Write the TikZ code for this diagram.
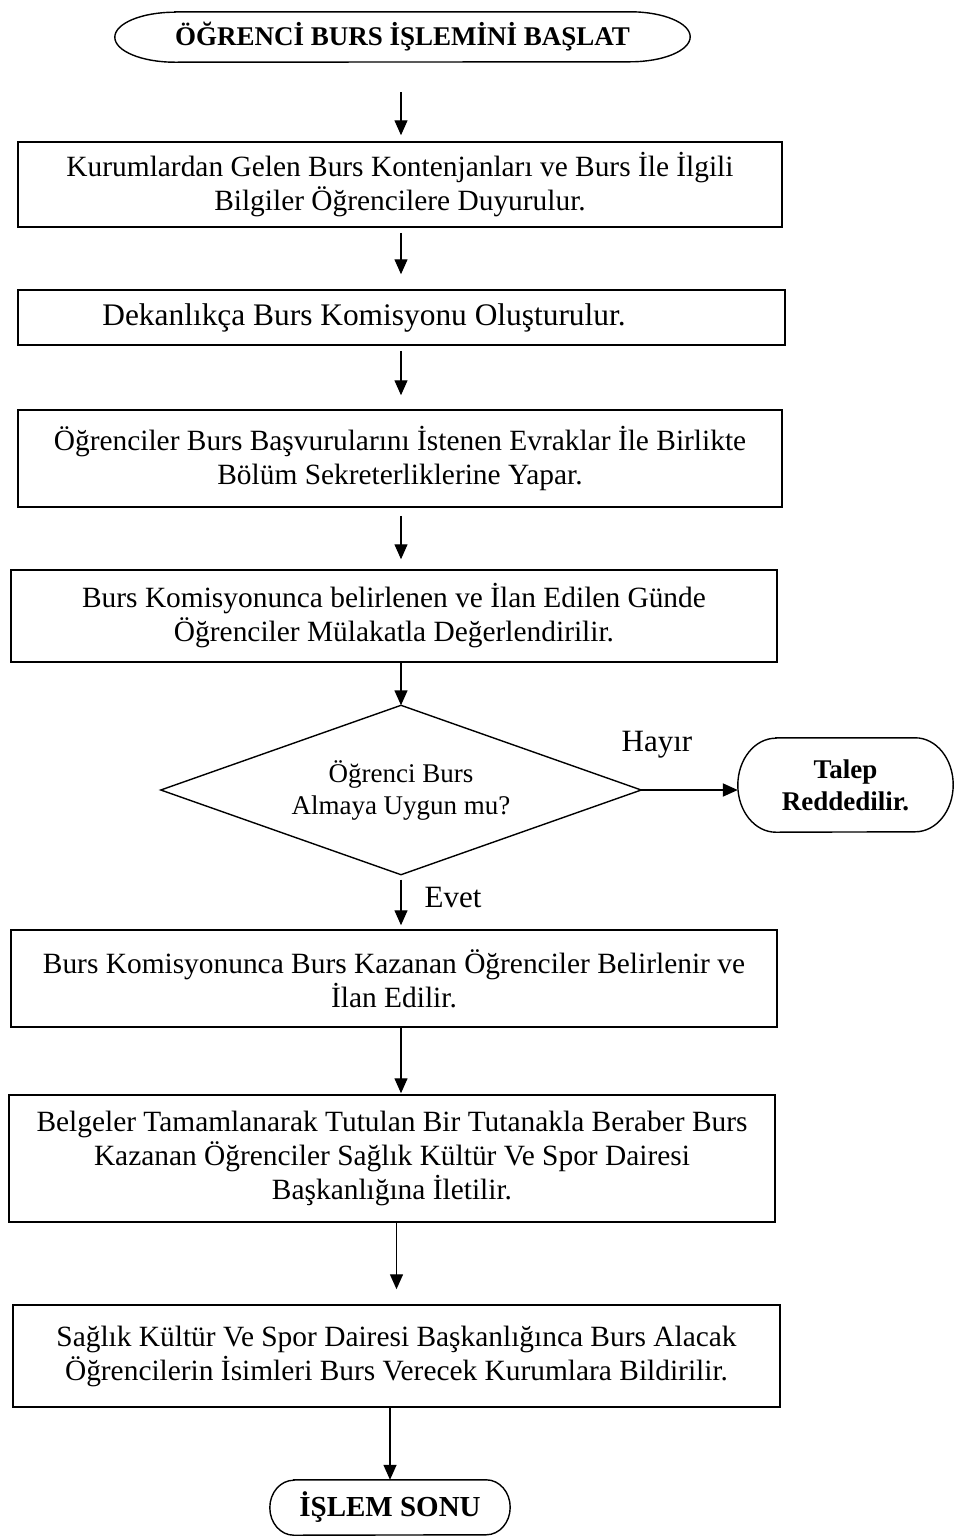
\documentclass[tikz,border=0pt]{standalone}
\usepackage{fontspec}
\setmainfont{Liberation Serif}
\usetikzlibrary{arrows.meta}

\tikzset{
  stepbox/.style={draw, line width=1.5pt, align=center, inner sep=0pt,
    font=\fontsize{29.4}{34}\selectfont},
  termtext/.style={inner sep=0pt, align=center, font=\bfseries\fontsize{27}{32}\selectfont},
  termline/.style={line width=1.4pt},
  decision/.style={inner sep=0pt, align=center, font=\fontsize{27}{32}\selectfont},
  arr/.style={line width=1.4pt, -{Triangle[length=15pt,width=13pt]}},
  lbl/.style={inner sep=0pt, font=\fontsize{31}{36}\selectfont}
}

\begin{document}
\begin{tikzpicture}[x=1pt,y=-1pt]
\useasboundingbox (0,0) rectangle (955,1537);

% start terminal
\node[termtext, minimum width=575pt, minimum height=50pt] (start) at (402.5,37)
  {ÖĞRENCİ BURS İŞLEMİNİ BAŞLAT};
\draw[termline] ([xshift=60pt]start.north west) -- ([xshift=-60pt]start.north east)
  arc[start angle=90, end angle=-90, x radius=60pt, y radius=25pt]
  -- ([xshift=60pt]start.south west)
  arc[start angle=270, end angle=90, x radius=60pt, y radius=25pt] -- cycle;

% process steps
\node[stepbox, minimum width=764pt, minimum height=85pt] (b1) at (400,184.5)
  {Kurumlardan Gelen Burs Kontenjanları ve Burs İle İlgili\\Bilgiler Öğrencilere Duyurulur.};
\node[stepbox, minimum width=767pt, minimum height=55pt,
  font=\fontsize{31.4}{34}\selectfont] (b2) at (401.5,317.5)
  {Dekanlıkça Burs Komisyonu Oluşturulur.\hspace*{75pt}};
\node[stepbox, minimum width=764pt, minimum height=97pt] (b3) at (400,458.5)
  {Öğrenciler Burs Başvurularını İstenen Evraklar İle Birlikte\\Bölüm Sekreterliklerine Yapar.};
\node[stepbox, minimum width=766pt, minimum height=92pt] (b4) at (394,616)
  {Burs Komisyonunca belirlenen ve İlan Edilen Günde\\Öğrenciler Mülakatla Değerlendirilir.};

% decision
\node[decision, minimum width=480pt, minimum height=169pt] (d) at (401,790)
  {Öğrenci Burs\\Almaya Uygun mu?};
\draw[line width=1.4pt, line join=miter] (d.west) -- (d.north) -- (d.east) -- (d.south) -- cycle;

% rejected
\node[termtext, minimum width=215pt, minimum height=94pt] (rej) at (845.5,785)
  {Talep\\Reddedilir.};
\draw[termline] ([xshift=38pt]rej.north west) -- ([xshift=-38pt]rej.north east)
  arc[start angle=90, end angle=-90, x radius=38pt, y radius=47pt]
  -- ([xshift=38pt]rej.south west)
  arc[start angle=270, end angle=90, x radius=38pt, y radius=47pt] -- cycle;

\node[stepbox, minimum width=766pt, minimum height=97pt] (b5) at (394,978.5)
  {Burs Komisyonunca Burs Kazanan Öğrenciler Belirlenir ve\\İlan Edilir.};
\node[stepbox, minimum width=766pt, minimum height=127pt] (b6) at (392,1158.5)
  {Belgeler Tamamlanarak Tutulan Bir Tutanakla Beraber Burs\\Kazanan Öğrenciler Sağlık Kültür Ve Spor Dairesi\\Başkanlığına İletilir.};
\node[stepbox, minimum width=767pt, minimum height=102pt] (b7) at (396.5,1356)
  {Sağlık Kültür Ve Spor Dairesi Başkanlığınca Burs Alacak\\Öğrencilerin İsimleri Burs Verecek Kurumlara Bildirilir.};

% end terminal
\node[termtext, minimum width=240pt, minimum height=55pt, font=\bfseries\fontsize{29}{32}\selectfont] (end) at (390,1507.5)
  {İŞLEM SONU};
\draw[termline] ([xshift=24pt]end.north west) -- ([xshift=-24pt]end.north east)
  arc[start angle=90, end angle=-90, x radius=24pt, y radius=27.5pt]
  -- ([xshift=24pt]end.south west)
  arc[start angle=270, end angle=90, x radius=24pt, y radius=27.5pt] -- cycle;

% branch labels
\node[lbl] (no) at (657,745) {Hayır};
\node[lbl] (yes) at (453,897) {Evet};

% connectors
\draw[arr, shorten <=30pt, shorten >=6pt] (start.south -| d.north) -- (b1.north -| d.north);
\draw[arr, shorten <=5pt, shorten >=15pt] (b1.south -| d.north) -- (b2.north -| d.north);
\draw[arr, shorten <=5pt, shorten >=14pt] (b2.south -| d.north) -- (b3.north -| d.north);
\draw[arr, shorten <=8pt, shorten >=10pt] (b3.south -| d.north) -- (b4.north -| d.north);
\draw[arr] (b4.south -| d.north) -- (d.north);
\draw[arr, line width=2pt] (d.east) -- (d.east -| rej.west);
\draw[arr, shorten <=5pt, shorten >=4pt] (d.south) -- (b5.north -| d.south);
\draw[arr, shorten >=1pt] (b5.south -| d.north) -- (b6.north -| d.north);
\draw[arr, shorten >=15pt] (b6.south -| b7.north) -- (b7.north);
\draw[arr] (b7.south -| end.north) -- (end.north);
\end{tikzpicture}
\end{document}
